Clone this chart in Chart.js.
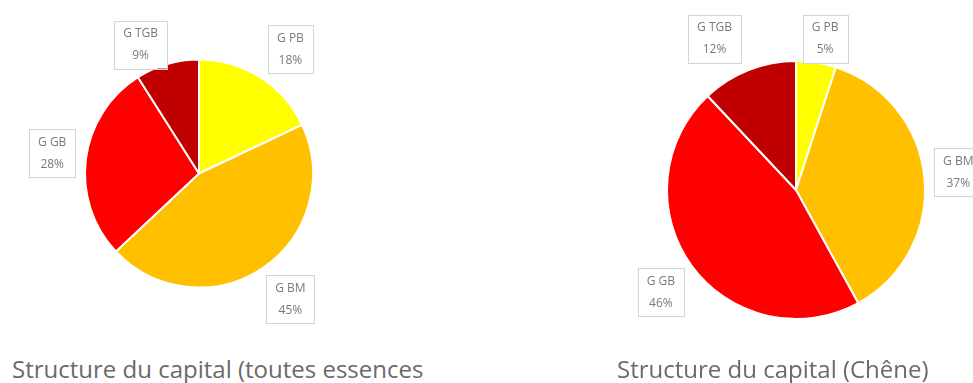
<!DOCTYPE html>
<html>
<head>
<meta charset="utf-8">
<script src="https://cdn.jsdelivr.net/npm/chart.js@4/dist/chart.umd.min.js"></script>
<style>
  body { margin: 0; width: 973px; height: 383px; background: #fff; overflow: hidden; position: relative; font-family: "Open Sans", sans-serif; }
  canvas { position: absolute; }
  .titre { position: absolute; color: #6a6a6a; font-size: 24px; line-height: 24px; white-space: nowrap; }
</style>
</head>
<body>
<canvas id="toutes" width="398" height="347" style="left:0;top:0"></canvas>
<canvas id="chene" width="354" height="380" style="left:619px;top:0"></canvas>
<div class="titre" style="left:12px;top:357px">Structure du capital (toutes essences</div>
<div class="titre" style="left:617px;top:357px">Structure du capital (Chêne)</div>
<script>
// classes de grosseur, dans l'ordre des secteurs (sens horaire depuis midi)
const classes = ['G PB', 'G BM', 'G GB', 'G TGB'];
const couleurs = ['#FFFF00', '#FFC000', '#FF0000', '#C00000'];

// part du capital en %
const partToutes = [18, 45, 28, 9];
const partChene = [5, 37, 46, 12];

// petits décalages des étiquettes (px) pour éviter les chevauchements
const decalToutes = [[10, 4], [6, 0], [4, -1], [-16, 17]];
const decalChene = [[3, 14], [-4, -2], [0, 4], [-20, 4]];

// étiquettes encadrées posées hors du secteur, sur son angle médian
const etiquettes = {
    id: 'etiquettes',
    afterDatasetsDraw(chart, args, opts) {
        const ctx = chart.ctx;
        const arcs = chart.getDatasetMeta(0).data;
        const valeurs = chart.data.datasets[0].data;
        ctx.save();
        ctx.font = '12px "Open Sans"';
        ctx.textAlign = 'center';
        ctx.textBaseline = 'middle';
        arcs.forEach((arc, i) => {
            const mid = (arc.startAngle + arc.endAngle) / 2;
            const d = arc.outerRadius + 38;
            const cx = arc.x + d * Math.cos(mid) + opts.decal[i][0];
            const cy = arc.y + d * Math.sin(mid) + opts.decal[i][1];
            const l1 = chart.data.labels[i];
            const l2 = valeurs[i] + '%';
            const w = Math.max(ctx.measureText(l1).width, ctx.measureText(l2).width) + 18;
            const h = 48;
            ctx.fillStyle = '#fff';
            ctx.fillRect(cx - w / 2, cy - h / 2, w, h);
            ctx.strokeStyle = '#d4d4d4';
            ctx.lineWidth = 1;
            ctx.strokeRect(Math.round(cx - w / 2) + 0.5, Math.round(cy - h / 2) + 0.5, Math.round(w), h);
            ctx.fillStyle = '#7a7a7a';
            ctx.fillText(l1, cx, cy - 11);
            ctx.fillText(l2, cx, cy + 11);
        });
        ctx.restore();
    }
};

function camembert(id, valeurs, decal, padding) {
    return new Chart(document.getElementById(id), {
        type: 'pie',
        data: {
            labels: classes,
            datasets: [{
                data: valeurs,
                backgroundColor: couleurs,
                borderColor: '#ffffff',
                borderWidth: 2
            }]
        },
        options: {
            responsive: false,
            animation: false,
            layout: { padding: padding },
            plugins: {
                legend: { display: false },
                tooltip: { enabled: false },
                etiquettes: { decal: decal }
            }
        },
        plugins: [etiquettes]
    });
}

camembert('toutes', partToutes, decalToutes, { left: 84, right: 84, top: 58.5, bottom: 58.5 });
camembert('chene', partChene, decalChene, { left: 47, right: 47, top: 60, bottom: 60 });
</script>
</body>
</html>
